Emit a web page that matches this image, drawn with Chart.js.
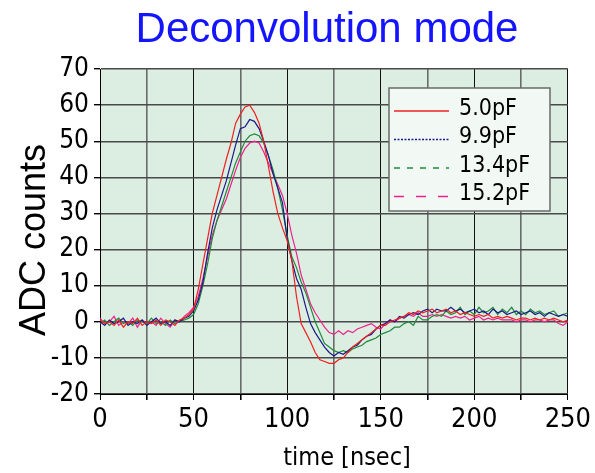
<!DOCTYPE html>
<html>
<head>
<meta charset="utf-8">
<script src="https://cdn.jsdelivr.net/npm/chart.js@4.4.0/dist/chart.umd.min.js"></script>
<style>
  body { margin: 0; background: #fff; }
  #wrap { width: 595px; height: 473px; }
</style>
</head>
<body>
<div id="wrap"><canvas id="pulseChart" width="595" height="473"></canvas></div>
<script>
// time axis, nsec
var times = [
  0, 2.5, 5, 7.5, 10, 12.5, 15, 17.5, 20, 22.5,
  25, 27.5, 30, 32.5, 35, 37.5, 40, 42.5, 45, 47.5,
  50, 52.5, 55, 57.5, 60, 62.5, 65, 67.5, 70, 72.5,
  75, 77.5, 80, 82.5, 85, 87.5, 90, 92.5, 95, 97.5,
  100, 102.5, 105, 107.5, 110, 112.5, 115, 117.5, 120, 122.5,
  125, 127.5, 130, 132.5, 135, 137.5, 140, 142.5, 145, 147.5,
  150, 152.5, 155, 157.5, 160, 162.5, 165, 167.5, 170, 172.5,
  175, 177.5, 180, 182.5, 185, 187.5, 190, 192.5, 195, 197.5,
  200, 202.5, 205, 207.5, 210, 212.5, 215, 217.5, 220, 222.5,
  225, 227.5, 230, 232.5, 235, 237.5, 240, 242.5, 245, 247.5,
  250
];

// ADC counts per detector capacitance
var adc5_0 = [
  0.5, -0.5, 0, -1, 0.5, -1.5, 0, -0.5, 1, -1,
  0, -0.5, 0.5, -1, 0.5, 0, -1, 0.5, 1, 2,
  3.5, 9, 16, 23, 30, 35, 40, 45, 49.5, 55,
  57.5, 59.5, 60, 58, 55, 50, 43, 36, 30, 26,
  22.5, 17, 7, -0.5, -3, -5.5, -8.5, -10.5, -11, -11.5,
  -11.5, -10.5, -10, -8.5, -7, -6, -5, -4, -3, -2,
  -1, -1, 0, 0.5, 1, 1.5, 2.5, 2, 3, 2.5,
  3, 3.5, 2.5, 3, 3.5, 2.5, 3, 2, 2.5, 2,
  1.5, 2, 1.5, 2, 1, 1.5, 1, 1.5, 1, 0.5,
  1, 1, 0.5, 1, 0.5, 1, 0.5, 1, 0.5, 0,
  0.5
];
var adc9_9 = [
  0, -1, 0.5, -0.5, 0, 1, -1, 0, -0.5, 0.5,
  -1, 0, 1, -0.5, 0, -1, 0.5, 0, 1, 1.5,
  3, 6, 11, 19, 26, 31, 35, 39, 44, 49,
  53.5, 54, 56, 55.5, 53.5, 50, 46, 41, 37, 33,
  23, 17, 12, 9, 4, -0.5, -3, -5, -7, -8.5,
  -9.5, -8.5, -9, -8, -7, -6.5, -5, -4, -3.5, -2,
  -1, -0.5, 0.5, 0, 1.5, 1, 2, 2.5, 2, 3,
  3.5, 2.5, 3.5, 3, 3, 4, 3, 3.5, 2.5, 3,
  3.5, 2.5, 3, 2, 3.5, 2.5, 3, 2, 2.5, 3,
  2, 2.5, 3, 2, 2.5, 1.5, 2.5, 2, 1.5, 2,
  1.5
];
var adc13_4 = [
  -0.5, 0.5, -1, 0, 1, -0.5, 0, -1, 0.5, 0,
  -0.5, 1, -0.5, 0, -1, 0.5, -0.5, 0, 0.5, 1,
  2, 5, 10, 16, 23, 28, 32, 36, 40, 44,
  47, 50, 51.5, 52, 51.5, 49.5, 46, 42, 37, 31,
  24, 18, 15, 11, 8, 4, 0, -3, -6, -7,
  -8, -8.5, -8, -8.5, -7.5, -7, -6.5, -5.5, -5, -4.5,
  -3.5, -3, -2.5, -1.5, -1.5, -0.5, 0, -1, 1.5, 0.5,
  0.5, 1.5, 2, 1.5, 3, 2, 2.5, 4, 2, 3,
  2, 4, 2.5, 3, 4, 2, 3.5, 2.5, 4, 2,
  3, 2, 3.5, 2.5, 3, 2, 2.5, 3, 1.5, 2,
  2.5
];
var adc15_2 = [
  1, -0.5, 0, 1.5, -1, 0, -0.5, 1, -1.5, 0.5,
  -0.5, 0, -1, 1, -0.5, -1.5, 0.5, 0, 1.5, 2.5,
  4, 7, 12, 18, 24, 28, 31, 34, 38, 42,
  45.5, 48, 49.5, 50, 49.5, 47, 44, 41, 38, 35,
  30, 24, 19, 13, 9, 5, 2.5, 0.5, -1.5, -3,
  -3.5, -2.5, -3.5, -2.5, -3, -2, -1.5, -1, -0.5, -1.5,
  -2, -0.5, 0.5, 0, 1, 1.5, 2, 1.5, 2.5, 1.5,
  1.5, 2, 1.5, 2, 1.5, 1, 1.5, 1, 1.5, 0.5,
  1, 1.5, 0.5, 1, 0.5, 1, 0.5, 0.5, 0.5, 0,
  0.5, 0.5, 0, 0.5, 0.5, 0, 0.5, 0.5, -0.5, -1,
  0
];
var seriesLabels = ['5.0pF', '9.9pF', '13.4pF', '15.2pF'];

var NARROW = "'Liberation Sans Narrow', 'Arial Narrow', 'DejaVu Sans Condensed', 'Liberation Sans', Arial, sans-serif";
var SANS = "'Liberation Sans', Arial, sans-serif";

function points(vals) {
    return vals.map(function (v, i) { return { x: times[i], y: v }; });
}

// light green plot background
var plotBg = {
    id: 'plotBg',
    beforeDraw: function (chart) {
        var a = chart.chartArea, ctx = chart.ctx;
        ctx.save();
        ctx.fillStyle = '#dcede1';
        ctx.fillRect(a.left, a.top, a.right - a.left, a.bottom - a.top);
        ctx.restore();
    }
};

// chart title and axis titles, placed like the original figure
var titles = {
    id: 'titles',
    afterDraw: function (chart) {
        var ctx = chart.ctx;
        ctx.save();
        ctx.textAlign = 'center';
        ctx.textBaseline = 'alphabetic';
        ctx.fillStyle = '#1414ff';
        ctx.font = '42px ' + SANS;
        ctx.fillText('Deconvolution mode', 327, 42);
        ctx.fillStyle = '#000';
        ctx.font = '25px ' + NARROW;
        ctx.fillText('time [nsec]', 347, 465);
        ctx.translate(45, 240);
        ctx.rotate(-Math.PI / 2);
        ctx.font = '36px ' + SANS;
        ctx.fillText('ADC counts', 0, 0);
        ctx.restore();
    }
};

// boxed legend inside the plot, dashes only in the key
var legendDash = [[], [2, 1.5], [6, 7], [10, 12]];
var boxLegend = {
    id: 'boxLegend',
    afterDraw: function (chart) {
        var ctx = chart.ctx;
        var x = 389, y = 88, w = 161, h = 123;
        ctx.save();
        ctx.fillStyle = '#f2f9f5';
        ctx.fillRect(x, y, w, h);
        ctx.strokeStyle = '#6a6a6a';
        ctx.lineWidth = 1.5;
        ctx.strokeRect(x, y, w, h);
        ctx.font = '23px ' + NARROW;
        ctx.textBaseline = 'middle';
        chart.data.datasets.forEach(function (ds, i) {
            var rowY = 111 + i * 28.5;
            ctx.strokeStyle = ds.borderColor;
            ctx.lineWidth = 1.4;
            ctx.setLineDash(legendDash[i]);
            ctx.beginPath();
            ctx.moveTo(394, rowY);
            ctx.lineTo(449, rowY);
            ctx.stroke();
            ctx.setLineDash([]);
            ctx.fillStyle = '#000';
            ctx.fillText(ds.label, 459, rowY - 2);
        });
        ctx.restore();
    }
};

var ctx = document.getElementById('pulseChart').getContext('2d');
var pulseChart = new Chart(ctx, {
    type: 'line',
    data: {
        datasets: [{
            label: seriesLabels[0],
            data: points(adc5_0),
            borderColor: '#f02020',
            borderWidth: 1.2
        }, {
            label: seriesLabels[1],
            data: points(adc9_9),
            borderColor: '#1c1a8a',
            borderWidth: 1.2
        }, {
            label: seriesLabels[2],
            data: points(adc13_4),
            borderColor: '#1f8a3a',
            borderWidth: 1.2
        }, {
            label: seriesLabels[3],
            data: points(adc15_2),
            borderColor: '#f0208c',
            borderWidth: 1.2
        }]
    },
    plugins: [plotBg, boxLegend, titles],
    options: {
        responsive: false,
        animation: false,
        layout: { padding: { left: 0, right: 24, top: 69, bottom: 0 } },
        elements: { point: { radius: 0 }, line: { tension: 0 } },
        plugins: {
            legend: { display: false },
            tooltip: { enabled: false },
            title: { display: false }
        },
        scales: {
            x: {
                type: 'linear',
                min: 0,
                max: 250,
                ticks: {
                    stepSize: 25,
                    autoSkip: false,
                    maxRotation: 0,
                    color: '#000',
                    padding: 4,
                    font: { family: NARROW, size: 27 },
                    callback: function (v) { return v % 50 === 0 ? v : ''; }
                },
                grid: {
                    color: function (c) { return c.tick && c.tick.value % 50 === 0 ? '#111' : '#6b6b6b'; },
                    lineWidth: function (c) { return c.tick && c.tick.value % 50 === 0 ? 1 : 1.6; },
                    tickLength: 6,
                    tickColor: '#000'
                },
                border: { color: '#000', width: 1 },
                afterFit: function (s) { s.height = 79; }
            },
            y: {
                min: -20,
                max: 70,
                ticks: {
                    stepSize: 10,
                    color: '#000',
                    padding: 5,
                    font: { family: NARROW, size: 26 }
                },
                grid: {
                    color: '#4a4a4a',
                    lineWidth: 1.4,
                    tickLength: 6,
                    tickColor: '#000'
                },
                border: { color: '#000', width: 1 },
                afterFit: function (s) { s.width = 100; }
            }
        }
    }
});
</script>
</body>
</html>
